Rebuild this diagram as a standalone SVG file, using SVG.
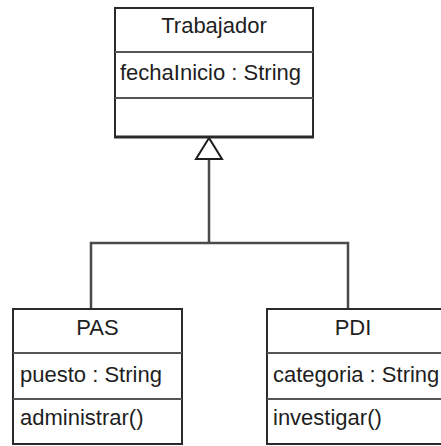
<svg xmlns="http://www.w3.org/2000/svg" width="441" height="446" viewBox="0 0 441 446">
  <style>
    .box { fill: #ffffff; stroke: #2a2a2a; stroke-width: 2; }
    .sep { stroke: #555555; stroke-width: 2; }
    .txt { font-family: "Liberation Sans", Arial, sans-serif; font-size: 22px; fill: #1e1e1e; }
    .title { text-anchor: middle; }
    .link { fill: none; stroke: #4a4a4a; stroke-width: 2.5; }
    .arrow { fill: #ffffff; stroke: #1e1e1e; stroke-width: 2; stroke-linejoin: miter; }
  </style>
  <rect width="441" height="446" fill="#ffffff"/>

  <!-- Generalization connectors -->
  <g id="connectors">
    <polyline class="link" points="91,309 91,243 348,243 348,309"/>
    <line class="link" x1="209" y1="243" x2="209" y2="159"/>
    <polygon class="arrow" points="209,138 196,159 222,159"/>
  </g>

  <!-- Superclass -->
  <g id="trabajador">
    <rect class="box" x="115" y="8" width="198" height="129"/>
    <line class="sep" x1="115" y1="52" x2="313" y2="52"/>
    <line class="sep" x1="115" y1="98" x2="313" y2="98"/>
    <line x1="114" y1="137" x2="314" y2="137" stroke="#2a2a2a" stroke-width="3"/>
    <text class="txt title" x="214" y="33">Trabajador</text>
    <text class="txt" x="120" y="80">fechaInicio : String</text>
  </g>

  <!-- Subclass PAS -->
  <g id="pas">
    <rect class="box" x="13" y="309" width="169" height="135"/>
    <line class="sep" x1="13" y1="353" x2="182" y2="353"/>
    <line class="sep" x1="13" y1="399" x2="182" y2="399"/>
    <text class="txt title" x="97.5" y="335">PAS</text>
    <text class="txt" x="20" y="382">puesto : String</text>
    <text class="txt" x="20" y="425">administrar()</text>
  </g>

  <!-- Subclass PDI -->
  <g id="pdi">
    <rect class="box" x="267" y="309" width="186" height="135"/>
    <line class="sep" x1="267" y1="353" x2="453" y2="353"/>
    <line class="sep" x1="267" y1="399" x2="453" y2="399"/>
    <text class="txt title" x="353" y="335">PDI</text>
    <text class="txt" x="273" y="382">categoria : String</text>
    <text class="txt" x="273" y="425">investigar()</text>
  </g>
</svg>
